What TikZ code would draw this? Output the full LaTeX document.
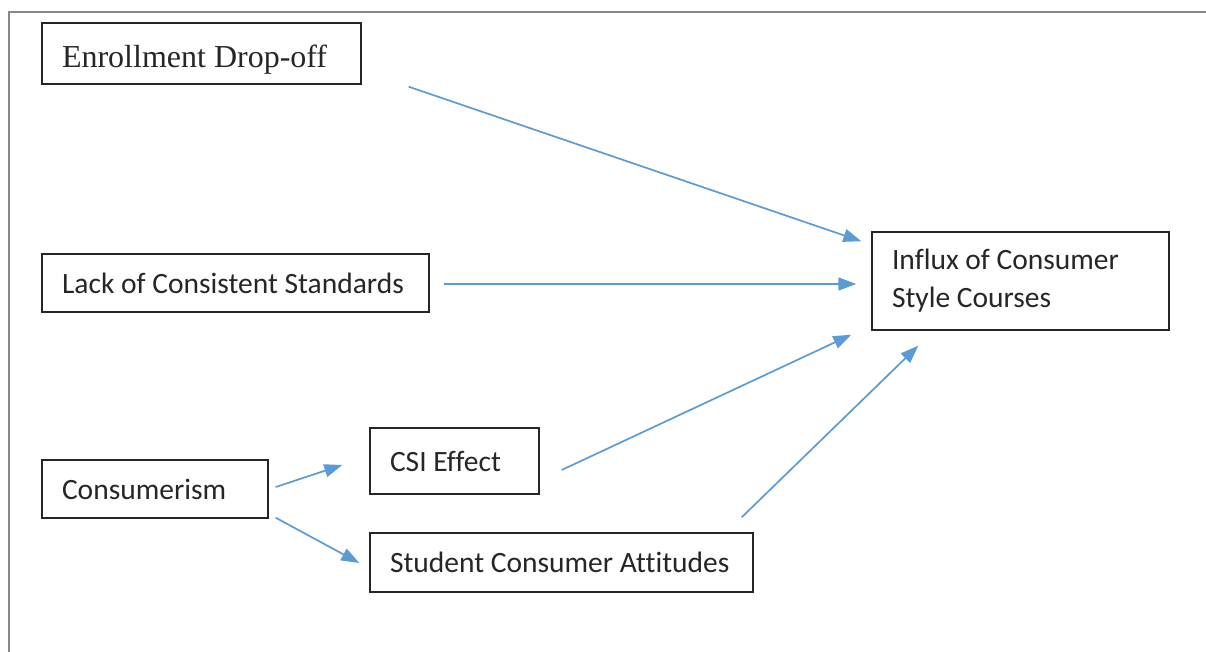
\documentclass[tikz,border=0pt]{standalone}
\usepackage{fontspec}
\setmainfont{Carlito}[Ligatures=NoCommon]
\newfontfamily\timesfont{Liberation Serif}
\usepackage{tikz}
\usetikzlibrary{arrows.meta}
\usepackage{xcolor}
\definecolor{arrowblue}{HTML}{5B9BD5}
\definecolor{framegray}{HTML}{878787}

\begin{document}
\begin{tikzpicture}[x=0.5pt, y=-0.5pt,
    factor/.style={draw=black!85, line width=0.7pt, rectangle, inner xsep=10pt, inner ysep=0pt,
        align=flush left, font=\fontsize{14.75}{19}\selectfont, text=black!85},
    arrowline/.style={draw=arrowblue, line width=0.85pt, -{Triangle[length=9pt,width=6.5pt]}}]
    \useasboundingbox (0,0) rectangle (1206,652);

    % Outer frame
    \draw[framegray, line width=1pt] (1206,12) -- (9,12) -- (9,652);

    % Draw the factor boxes
    \node[factor, minimum width=159.5pt, minimum height=30.5pt, text width=139.5pt,
        text height=17.3pt, text depth=3.5pt,
        font=\timesfont\fontsize{16}{19}\selectfont] (enroll) at (201.5,53.5) {Enrollment Drop-off};
    \node[factor, minimum width=193.5pt, minimum height=29pt, text width=173.5pt] (lack) at (235.5,283) {Lack of Consistent Standards};
    \node[factor, minimum width=148.5pt, minimum height=49pt, text width=128.5pt] (influx) at (1020.5,281) {Influx of Consumer\\Style Courses};
    \node[factor, minimum width=113pt, minimum height=29pt, text width=93pt] (consum) at (155,489) {Consumerism};
    \node[factor, minimum width=84.5pt, minimum height=33pt, text width=64.5pt] (csi) at (454.5,461) {CSI Effect};
    \node[factor, minimum width=191.5pt, minimum height=29.5pt, text width=171.5pt] (student) at (561.5,562.5) {Student Consumer Attitudes};

    % Arrow ends, kept a little off the boxes
    \coordinate (enroll-out) at ([shift={(47,2)}]enroll.south east);
    \coordinate (lack-out) at ([shift={(14,1)}]lack.east);
    \coordinate (csi-out) at ([shift={(22,9)}]csi.east);
    \coordinate (student-out) at ([shift={(-12,-15)}]student.north east);
    \coordinate (consum-out1) at ([shift={(7,-2)}]consum.east);
    \coordinate (consum-out2) at ([shift={(7,-1)}]consum.south east);
    \coordinate (influx-in1) at ([shift={(-10,10)}]influx.north west);
    \coordinate (influx-in2) at ([shift={(-15,3)}]influx.west);
    \coordinate (influx-in3) at ([shift={(-20,4)}]influx.south west);
    \coordinate (influx-in4) at ([shift={(47,15)}]influx.south west);
    \coordinate (csi-in) at ([shift={(-27,4)}]csi.west);
    \coordinate (student-in) at ([shift={(-10,0.5)}]student.west);

    % Draw the arrows
    \foreach \from/\to in {enroll-out/influx-in1, lack-out/influx-in2, csi-out/influx-in3,
        student-out/influx-in4, consum-out1/csi-in, consum-out2/student-in}
        \draw[arrowline] (\from) -- (\to);
\end{tikzpicture}
\end{document}
